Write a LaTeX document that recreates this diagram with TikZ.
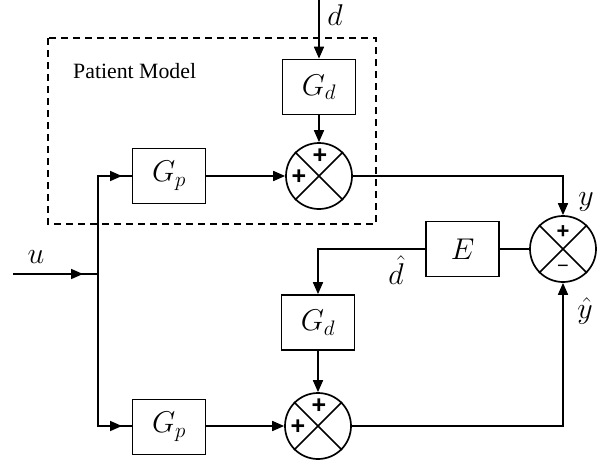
\RequirePackage{fix-cm}
\documentclass[tikz,border=0pt]{standalone}
\usepackage{fontspec}
\newfontfamily\pmfont{Liberation Serif}
\newfontfamily\sgnfont{Liberation Sans}
\usetikzlibrary{arrows.meta,calc,decorations.markings}
\begin{document}
\begin{tikzpicture}[x=1pt,y=-1pt,
  blk/.style={draw, line width=1.7pt, minimum width=73pt, minimum height=55pt, inner sep=0pt, font=\fontsize{30}{36}\selectfont},
  sumc/.style={draw, circle, line width=1.7pt, minimum size=66pt, inner sep=0pt},
  conn/.style={line width=1.7pt},
  arr/.style={conn, -{Triangle[length=12pt,width=10pt]}},
  midarr/.style={conn, line cap=rect, postaction={decorate}, decoration={markings, mark=at position #1 with {\arrow{Triangle[length=12pt,width=10pt]}}}},
  lbl/.style={font=\fontsize{30}{36}\selectfont, inner sep=0pt},
  sgn/.style={font=\sgnfont\bfseries\fontsize{25}{27}\selectfont, inner sep=0pt}
]
\useasboundingbox (0,0) rectangle (613,463);
\fill[white] (0,0) rectangle (613,463);

% dashed patient model frame
\draw[line width=2pt, dash pattern=on 7pt off 5pt] (48,38) rectangle (376,224);
\node[anchor=west, font=\pmfont\fontsize{21.8}{24}\selectfont, inner sep=0pt] (pm) at (73,71) {Patient Model};

% blocks
\node[blk] (gd1) at (319,87) {$G_d$};
\node[sumc] (s1) at (319,176) {};
\node[blk] (gp1) at (169,176) {$G_p$};
\node[sumc] (s2) at (563,249) {};
\node[blk] (e) at (462.5,249) {$E$};
\node[blk] (gd2) at (318,322.5) {$G_d$};
\node[sumc] (s3) at (318,426) {};
\node[blk] (gp2) at (169,427) {$G_p$};

\foreach \s in {s1,s2,s3} {
  \draw[line width=1.7pt] (\s.north east) -- (\s.south west) (\s.north west) -- (\s.south east);
}

% signs
\node[sgn] (p1t) at ($(s1)+(1,-20)$) {+};
\node[sgn] (p1l) at ($(s1)+(-20,1)$) {+};
\node[sgn] (p3t) at ($(s3)+(1,-20)$) {+};
\node[sgn] (p3l) at ($(s3)+(-20,1)$) {+};
\node[sgn, font=\sgnfont\bfseries\fontsize{22}{24}\selectfont] (p2t) at ($(s2)+(0,-17)$) {+};
\node[sgn, font=\sgnfont\fontsize{20}{22}\selectfont] (m2b) at ($(s2)+(0,20)$) {−};

% coordinates
\coordinate (dtop) at (319,0);
\coordinate (uin) at (14,274);
\coordinate (br) at (98,274);
\coordinate (brt) at (98,176);
\coordinate (brb) at (98,426);

% connectors
\draw[arr] (dtop) -- (gd1.north);
\draw[arr] (gd1.south) -- (s1.north);
\draw[midarr=69pt] (uin) -- (br);
\draw[conn, line cap=rect] (brt) -- (brb);
\draw[midarr=24pt] (brt) -- (gp1.west);
\draw[midarr=24pt] (brb) -- (gp2.west |- brb);
\draw[arr] (gp1.east) -- (s1.west);
\draw[arr] (s1.east) -| (s2.north);
\draw[conn] (e.east) -- (s2.west);
\draw[arr] (e.west) -| (gd2.north);
\draw[arr] (gd2.south) -- (s3.north);
\draw[arr] (gp2.east |- s3) -- (s3.west);
\draw[arr] (s3.east) -| (s2.south);

% labels
\node[lbl] (ld) at (335,15) {$d$};
\node[lbl] (ly) at (586,202) {$y$};
\node[lbl] (lyh) at (585,311) {$\hat{y}$};
\node[lbl] (ldh) at (396,270) {$\hat{d}$};
\node[lbl] (lu) at (36,257) {$u$};
\end{tikzpicture}
\end{document}
